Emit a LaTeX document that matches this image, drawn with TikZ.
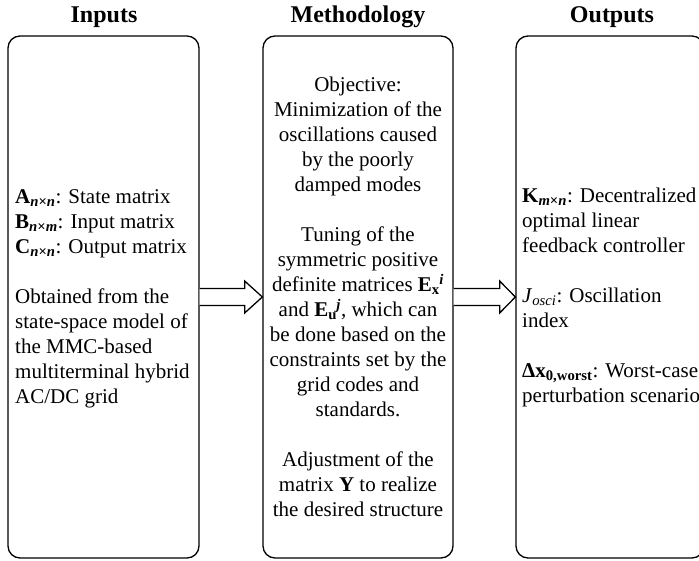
\documentclass[tikz,border=0pt]{standalone}
\usepackage{fontspec}
\setmainfont{Liberation Serif}
\usetikzlibrary{calc}
\newcommand\supsub[2]{\textsubscript{#2}\hspace{-0.5pt}\textsuperscript{#1}}
\newcommand\panelfont{\fontsize{21}{25}\selectfont\setlength{\lineskiplimit}{-100pt}\setlength{\lineskip}{0pt}}
\tikzset{
  panel/.style={draw, line width=1.3pt, rounded corners=12pt, rectangle, minimum height=522pt, inner sep=0pt},
  txt/.style={font=\panelfont, inner sep=0pt},
  heading/.style={font=\fontsize{24}{28}\selectfont\bfseries, inner sep=0pt, anchor=base},
  blockarrow/.style={draw, line width=1.3pt, fill=white, line join=miter}
}
\begin{document}
\begin{tikzpicture}[x=1pt,y=-1pt]
\clip (0,0) rectangle (699,561);
\fill[white] (0,0) rectangle (699,561);
% panels
\node[panel, minimum width=191pt] (in) at (103.5,297) {};
\node[panel, minimum width=190pt] (meth) at (358,297) {};
\node[panel, minimum width=188pt] (out) at (610,297) {};
% headings
\node[heading] (hin) at (104,23) {Inputs};
\node[heading] (hmeth) at (358,23) {Methodology};
\node[heading] (hout) at (612,23) {Outputs};
% texts
\node[txt, anchor=west, align=left] (tin) at (15,298.5) {%
\textbf{A}\textsubscript{\textbf{\textit{n}×\textit{n}}}: State matrix\\
\textbf{B}\textsubscript{\textbf{\textit{n}×\textit{m}}}: Input matrix\\
\textbf{C}\textsubscript{\textbf{\textit{n}×\textit{n}}}: Output matrix\\[25pt]
Obtained from the\\
state-space model of\\
the MMC-based\\
multiterminal hybrid\\
AC/DC grid};
\node[txt, align=center] (tmeth) at (358,297) {%
Objective:\\
Minimization of the\\
oscillations caused\\
by the poorly\\
damped modes\\[25pt]
Tuning of the\\
symmetric positive\\
definite matrices \textbf{E}\supsub{\textbf{\textit{i}}}{\textbf{x}}\\
and \textbf{E}\supsub{\textbf{\textit{j}}}{\textbf{u}}, which can\\
be done based on the\\
constraints set by the\\
grid codes and\\
standards.\\[25pt]
Adjustment of the\\
matrix \textbf{Y} to realize\\
the desired structure};
\node[txt, anchor=west, align=left] (tout) at (522,297.5) {%
\textbf{K}\textsubscript{\textbf{\textit{m}×\textit{n}}}: Decentralized\\
optimal linear\\
feedback controller\\[25pt]
\textit{J}\textsubscript{\textit{osci}}: Oscillation\\
index\\[25pt]
\textbf{Δx}\textsubscript{\textbf{0,worst}}: Worst-case\\
perturbation scenario};
% block arrows
\draw[blockarrow] ($(in.east)+(0,-8.5)$) -- ($(in.east)+(45,-8.5)$) -- ($(in.east)+(45,-16)$)
  -- (meth.west) -- ($(in.east)+(45,16)$) -- ($(in.east)+(45,8.5)$) -- ($(in.east)+(0,8.5)$);
\draw[blockarrow] ($(meth.east)+(0,-8.5)$) -- ($(meth.east)+(46,-8.5)$) -- ($(meth.east)+(46,-16)$)
  -- (out.west) -- ($(meth.east)+(46,16)$) -- ($(meth.east)+(46,8.5)$) -- ($(meth.east)+(0,8.5)$);
\end{tikzpicture}
\end{document}
